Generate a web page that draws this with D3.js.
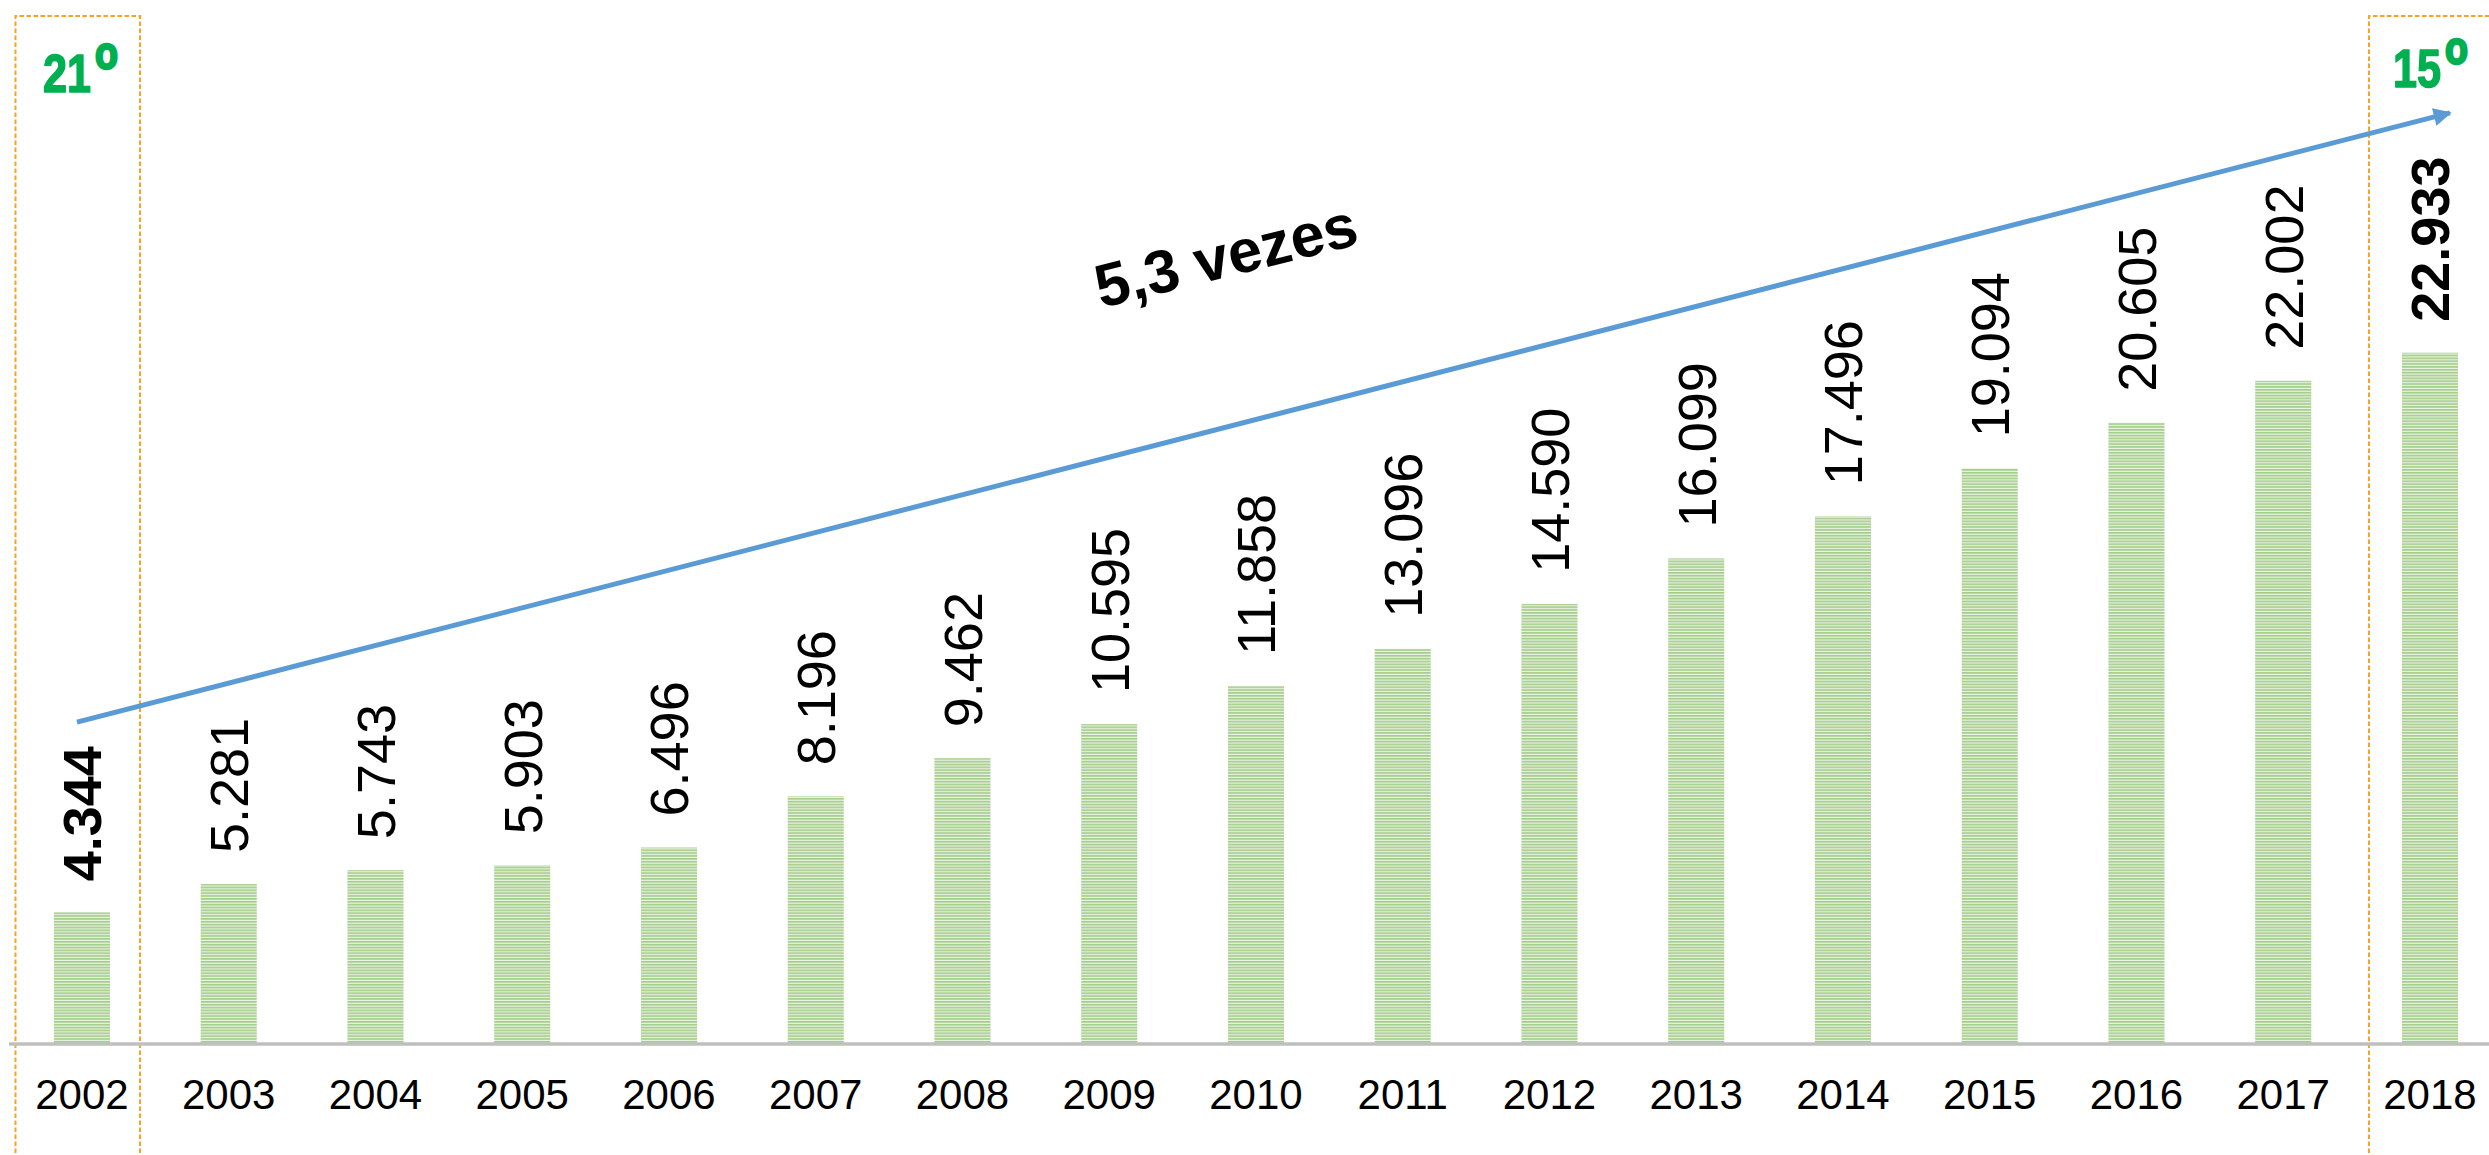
<!DOCTYPE html>
<html>
<head>
<meta charset="utf-8">
<script src="https://cdn.jsdelivr.net/npm/d3@7"></script>
<style>
  html, body { margin: 0; padding: 0; background: #fff; }
  svg { display: block; }
</style>
</head>
<body>
<script>
// ---- data ----
const years = ["2002","2003","2004","2005","2006","2007","2008","2009","2010","2011","2012","2013","2014","2015","2016","2017","2018"];
const values = [4344,5281,5743,5903,6496,8196,9462,10595,11858,13096,14590,16099,17496,19094,20605,22002,22933];
const valueLabels = ["4.344","5.281","5.743","5.903","6.496","8.196","9.462","10.595","11.858","13.096","14.590","16.099","17.496","19.094","20.605","22.002","22.933"];
const boldYears = ["2002","2018"];
const rankLabels = [{year: "2002", num: "21", sup: "o"}, {year: "2018", num: "15", sup: "o"}];
const growthLabel = "5,3 vezes";
// arrow annotation expressed in data space (value units)
const arrowStart = {year: "2002", value: 10660};
const arrowEnd = {year: "2018", value: 30900};

const W = 2489, H = 1155;
const baseY = 1043;
const svg = d3.select("body").append("svg").attr("width", W).attr("height", H);

const x = d3.scaleBand().domain(years).range([8.6, 8.6 + 17 * 146.75]).paddingInner(0.618).paddingOuter(0.309);
const y = d3.scaleLinear().domain([0, 22933]).range([baseY, baseY - 22933 * 0.0301]);
const cx = d => x(d) + x.bandwidth() / 2;

// pattern
const defs = svg.append("defs");
const pat = defs.append("pattern").attr("id", "stripes").attr("patternUnits", "userSpaceOnUse")
  .attr("width", 6).attr("height", 2.86);
pat.append("rect").attr("width", 6).attr("height", 2.86).attr("fill", "#eaf4e3");
pat.append("rect").attr("width", 6).attr("height", 1.65).attr("fill", "#a3cc89");
defs.append("marker").attr("id", "arrowhead").attr("viewBox", "0 0 10 10").attr("refX", 9).attr("refY", 5)
  .attr("markerWidth", 4.2).attr("markerHeight", 3.6).attr("markerUnits", "strokeWidth").attr("orient", "auto")
  .append("path").attr("d", "M0,0 L10,5 L0,10 z").attr("fill", "#5b9bd5");

// dashed boxes
const boxColor = "#f7a325";
const lb = { x0: cx("2002") - 66.5, x1: cx("2002") + 58 };
svg.append("path").attr("d", `M${lb.x0},${H + 5} V16 H${lb.x1} V${H + 5}`)
  .attr("fill", "none").attr("stroke", boxColor).attr("stroke-width", 2).attr("stroke-dasharray", "4.5,2.5");
const rb = { x0: cx("2018") - 61 };
svg.append("path").attr("d", `M${rb.x0},${H + 5} V16 H${W + 5}`)
  .attr("fill", "none").attr("stroke", boxColor).attr("stroke-width", 2).attr("stroke-dasharray", "4.5,2.5");

// bars
svg.selectAll("rect.bar").data(years).enter().append("rect").attr("class", "bar")
  .attr("x", d => x(d)).attr("width", x.bandwidth())
  .attr("y", (d, i) => y(values[i])).attr("height", (d, i) => baseY - y(values[i]))
  .attr("fill", "url(#stripes)");

// axis baseline
svg.append("line").attr("x1", 9).attr("x2", W).attr("y1", baseY + 1).attr("y2", baseY + 1)
  .attr("stroke", "#bfbfbf").attr("stroke-width", 3.5);

// year labels
svg.selectAll("text.year").data(years).enter().append("text").attr("class", "year")
  .attr("x", d => cx(d)).attr("y", 1109).attr("text-anchor", "middle")
  .attr("font-family", "Liberation Sans, Arial, sans-serif").attr("font-size", 42).attr("fill", "#000")
  .text(d => d);

// value labels
svg.selectAll("text.val").data(years).enter().append("text").attr("class", "val")
  .attr("transform", (d, i) => `translate(${cx(d)},${y(values[i]) - 31}) rotate(-90)`)
  .attr("dy", "0.36em").attr("text-anchor", "start")
  .attr("font-family", "Liberation Sans, Arial, sans-serif").attr("font-size", 54)
  .attr("font-weight", d => boldYears.includes(d) ? "bold" : "normal").attr("fill", "#000")
  .text((d, i) => valueLabels[i]);

// rank labels
const rk = svg.selectAll("text.rank").data(rankLabels).enter().append("text").attr("class", "rank")
  .attr("transform", d => d.year === "2002"
      ? `translate(${cx(d.year) - 39},92) scale(0.8,1)`
      : `translate(${cx(d.year) - 37},87) scale(0.8,1)`)
  .attr("font-family", "Liberation Sans, Arial, sans-serif").attr("font-size", 54).attr("font-weight", "bold")
  .attr("fill", "#00b050").attr("stroke", "#00b050").attr("stroke-width", 1.6).attr("stroke-linejoin", "round");
rk.append("tspan").text(d => d.num);
rk.append("tspan").attr("dx", 5).attr("dy", -23).attr("font-size", 47).attr("stroke-width", 2.6).text(d => d.sup);

// arrow
const ax0 = cx(arrowStart.year) - 5, ay0 = y(arrowStart.value);
const ax1 = cx(arrowEnd.year) + 20, ay1 = y(arrowEnd.value);
svg.append("line").attr("x1", ax0).attr("y1", ay0).attr("x2", ax1).attr("y2", ay1)
  .attr("stroke", "#5b9bd5").attr("stroke-width", 5).attr("marker-end", "url(#arrowhead)");

// growth label
const ang = Math.atan2(ay1 - ay0, ax1 - ax0) * 180 / Math.PI + 0.5;
svg.append("text").attr("transform", `translate(1231,276) rotate(${ang})`)
  .attr("text-anchor", "middle").attr("font-family", "Liberation Sans, Arial, sans-serif")
  .attr("font-size", 61).attr("font-weight", "bold").attr("fill", "#000").text(growthLabel);
</script>
</body>
</html>
